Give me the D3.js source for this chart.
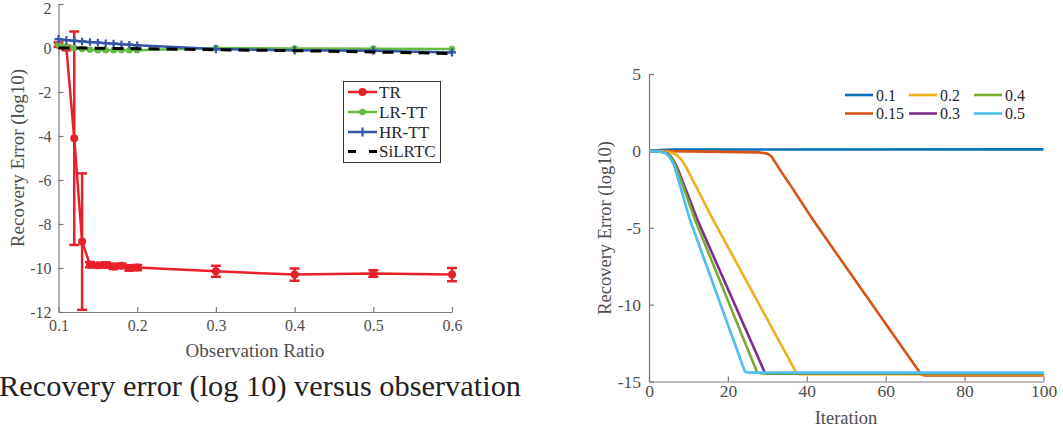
<!DOCTYPE html>
<html>
<head>
<meta charset="utf-8">
<script src="https://cdnjs.cloudflare.com/ajax/libs/d3/7.8.5/d3.min.js"></script>
<style>
body{margin:0;background:#fff;}
svg{display:block;}
svg text{font-family:"Liberation Serif","DejaVu Serif",serif;}
</style>
</head>
<body>
<svg id="myGraph" width="1063" height="433"></svg>
<script>
// ---- left panel: error vs observation ratio ----
var ratios = [0.1,0.11,0.12,0.13,0.14,0.15,0.16,0.17,0.18,0.19,0.2,0.3,0.4,0.5,0.6];
var trMean = [0.15,0.0,-4.1,-8.8,-9.85,-9.88,-9.86,-9.93,-9.9,-10.0,-9.98,-10.15,-10.3,-10.25,-10.3];
var trErr = [0.1,0.1,4.85,3.1,0.12,0.1,0.12,0.12,0.1,0.12,0.12,0.25,0.28,0.15,0.3];
var lrttMean = [0.15,0.05,0.0,-0.05,-0.08,-0.1,-0.1,-0.1,-0.1,-0.1,-0.1,0.0,-0.02,-0.03,-0.05];
var hrttMean = [0.4,0.36,0.33,0.3,0.27,0.25,0.22,0.2,0.17,0.15,0.12,-0.05,-0.1,-0.12,-0.2];
var hrttErr = [0.1,0.1,0.1,0.08,0.08,0.08,0.08,0.08,0.08,0.08,0.08,0.1,0.1,0.1,0.1];
var silrtcMean = [0.0,0.0,0.0,0.0,0.0,-0.01,-0.01,-0.02,-0.02,-0.02,-0.03,-0.08,-0.12,-0.18,-0.25];
var leftNames = ["TR","LR-TT","HR-TT","SiLRTC"];
var leftXTicks = [0.1,0.2,0.3,0.4,0.5,0.6];
var leftYTicks = [2,0,-2,-4,-6,-8,-10,-12];

// ---- right panel: error vs iteration ----
var rateNames = ["0.1","0.15","0.2","0.3","0.4","0.5"];
var iter01 = [0,3,6,100];
var err01 = [0,0.05,0.08,0.1];
var iter015 = [0,15,28,30,31,32,33.5,35.5,41.6,69,69.8,100];
var err015 = [0,-0.05,-0.1,-0.18,-0.35,-0.75,-1.35,-2.1,-4.5,-14.55,-14.6,-14.6];
var iter02 = [0,4,6,7.2,8.3,9.5,16.3,37.4,38.2,100];
var err02 = [0,-0.05,-0.13,-0.3,-0.6,-1.1,-4.5,-14.45,-14.52,-14.52];
var iter03 = [0,3,4.5,5.5,6.5,7.5,12.3,29.4,30.2,100];
var err03 = [0,-0.05,-0.15,-0.35,-0.75,-1.3,-4.5,-14.45,-14.5,-14.5];
var iter04 = [0,3,4.3,5.3,6.3,7.3,11.7,27.4,28.2,100];
var err04 = [0,-0.05,-0.15,-0.35,-0.75,-1.35,-4.5,-14.4,-14.47,-14.47];
var iter05 = [0,3,4.2,5.2,6.2,7,10.4,24.3,25.1,100];
var err05 = [0,-0.05,-0.15,-0.4,-0.85,-1.5,-4.5,-14.35,-14.42,-14.42];
var rightXTicks = [0,20,40,60,80,100];
var rightYTicks = [5,0,-5,-10,-15];

window.addEventListener("load",function(){

	var svg = d3.select("#myGraph");
	var axisCol = "#7a7a7a";
	var textCol = "#4d4d4d";
	var serif = "'Liberation Serif','DejaVu Serif',serif";

	function styleAxis(g,size){
		g.attr("font-family",serif);
		g.select(".domain").attr("stroke",axisCol).attr("stroke-width",1.2);
		g.selectAll(".tick line").attr("stroke",axisCol).attr("stroke-width",1.2);
		g.selectAll(".tick text").attr("fill",textCol).style("font-size",size+"px")
			.style("font-family",serif);
	}

	// ================= left chart =================
	var xL = d3.scaleLinear().domain([0.1,0.6]).range([58.5,452]);
	var yL = d3.scaleLinear().domain([-12,2]).range([312,4]);

	var gxL = svg.append("g").attr("transform","translate(0,312)")
		.call(d3.axisBottom(xL).tickValues(leftXTicks).tickSize(-5).tickSizeOuter(0).tickPadding(8)
			.tickFormat(d3.format(".1f")));
	styleAxis(gxL,16);
	var gyL = svg.append("g").attr("transform","translate(58.5,0)")
		.call(d3.axisLeft(yL).tickValues(leftYTicks).tickSize(-5).tickSizeOuter(0).tickPadding(7)
			.tickFormat(function(d){return String(d);}));
	styleAxis(gyL,16);
	// keep the top label inside the picture
	gyL.selectAll(".tick text").filter(function(d){return d==2;}).attr("dy","0.62em");

	svg.append("text").attr("x",255).attr("y",357).attr("text-anchor","middle")
		.attr("fill",textCol).style("font-size","19px").text("Observation Ratio");
	svg.append("text").attr("transform","translate(24,158) rotate(-90)").attr("text-anchor","middle")
		.attr("fill",textCol).style("font-size","19px").text("Recovery Error (log10)");

	var red = "#e8202a", green = "#66bb44", blue = "#3556a8";

	function drawSeries(vals,errs,col,width){
		var pts = ratios.map(function(r,i){return [r,vals[i],errs ? errs[i] : 0];});
		var line = d3.line().x(function(d){return xL(d[0]);}).y(function(d){return yL(d[1]);});
		var g = svg.append("g");
		g.append("path").datum(pts).attr("d",line).attr("fill","none")
			.attr("stroke",col).attr("stroke-width",width);
		if(errs){
			var eb = g.selectAll("g.eb").data(pts).enter().append("g").attr("stroke",col).attr("stroke-width",width);
			eb.append("line")
				.attr("x1",function(d){return xL(d[0]);}).attr("x2",function(d){return xL(d[0]);})
				.attr("y1",function(d){return yL(d[1]+d[2]);}).attr("y2",function(d){return yL(d[1]-d[2]);});
			[1,-1].forEach(function(s){
				eb.append("line")
					.attr("x1",function(d){return xL(d[0])-5;}).attr("x2",function(d){return xL(d[0])+5;})
					.attr("y1",function(d){return yL(d[1]+s*d[2]);}).attr("y2",function(d){return yL(d[1]+s*d[2]);});
			});
		}
		return {g:g,pts:pts};
	}

	var tr = drawSeries(trMean,trErr,red,2.5);
	tr.g.selectAll("circle").data(tr.pts).enter().append("circle")
		.attr("cx",function(d){return xL(d[0]);}).attr("cy",function(d){return yL(d[1]);})
		.attr("r",4).attr("fill",red);

	var lr = drawSeries(lrttMean,null,green,2.5);
	lr.g.selectAll("circle").data(lr.pts).enter().append("circle")
		.attr("cx",function(d){return xL(d[0]);}).attr("cy",function(d){return yL(d[1]);})
		.attr("r",3.3).attr("fill",green);

	var hr = drawSeries(hrttMean,null,blue,2.5);
	hr.g.selectAll("path.plus").data(hr.pts).enter().append("path").attr("class","plus")
		.attr("d",function(d,i){
			var cx = xL(d[0]), cy = yL(d[1]), h = Math.abs(yL(d[1]+hrttErr[i])-cy)+2;
			return "M"+(cx-4)+","+cy+"H"+(cx+4)+"M"+cx+","+(cy-h)+"V"+(cy+h);
		})
		.attr("stroke",blue).attr("stroke-width",2.2).attr("fill","none");

	var si = drawSeries(silrtcMean,null,"#000",3);
	si.g.select("path").attr("stroke-dasharray","11,7");

	// legend (left)
	var legL = svg.append("g");
	legL.append("rect").attr("x",343.5).attr("y",81.5).attr("width",97).attr("height",81)
		.attr("fill","#fff").attr("stroke","#333").attr("stroke-width",1);
	var legCols = [red,green,blue,"#000"];
	var legY = [92,112,132,151.5];
	leftNames.forEach(function(n,i){
		var y = legY[i];
		var ln = legL.append("line").attr("x1",348).attr("x2",377).attr("y1",y).attr("y2",y)
			.attr("stroke",legCols[i]).attr("stroke-width",i==3 ? 3 : 2.5);
		if(i==3) ln.attr("stroke-dasharray","8,13");
		if(i<2) legL.append("circle").attr("cx",362.5).attr("cy",y).attr("r",i==0 ? 4 : 3.3).attr("fill",legCols[i]);
		if(i==2) legL.append("path").attr("d","M358.5,"+y+"H366.5M362.5,"+(y-4.5)+"V"+(y+4.5))
			.attr("stroke",blue).attr("stroke-width",2.2);
		legL.append("text").attr("x",379).attr("y",y+5.5).attr("fill","#262626")
			.style("font-size","17px").text(n);
	});

	// caption
	svg.append("text").attr("x",-1).attr("y",396).attr("fill","#222")
		.attr("textLength",522).attr("lengthAdjust","spacingAndGlyphs")
		.style("font-size","29px").style("font-family",serif)
		.text("Recovery error (log 10) versus observation");

	// ================= right chart =================
	var xR = d3.scaleLinear().domain([0,100]).range([649,1043.5]);
	var yR = d3.scaleLinear().domain([-15,5]).range([381.5,74]);

	var gxR = svg.append("g").attr("transform","translate(0,381.5)")
		.call(d3.axisBottom(xR).tickValues(rightXTicks).tickSize(-5).tickSizeOuter(0).tickPadding(3));
	styleAxis(gxR,17.5);
	var gyR = svg.append("g").attr("transform","translate(649,0)")
		.call(d3.axisLeft(yR).tickValues(rightYTicks).tickSize(-5).tickSizeOuter(0).tickPadding(8)
			.tickFormat(function(d){return String(d);}));
	styleAxis(gyR,17.5);

	svg.append("text").attr("x",846).attr("y",424).attr("text-anchor","middle")
		.attr("fill",textCol).style("font-size","18.5px").text("Iteration");
	svg.append("text").attr("transform","translate(611,228) rotate(-90)").attr("text-anchor","middle")
		.attr("fill",textCol).style("font-size","18.5px").text("Recovery Error (log10)");

	var rateCols = ["#0072BD","#D95319","#EDB120","#7E2F8E","#77AC30","#4DBEEE"];
	var rateIters = [iter01,iter015,iter02,iter03,iter04,iter05];
	var rateErrs = [err01,err015,err02,err03,err04,err05];

	var lineR = d3.line()
		.x(function(d){return xR(d[0]);}).y(function(d){return yR(d[1]);});

	rateNames.forEach(function(n,k){
		var pts = rateIters[k].map(function(t,i){return [t,rateErrs[k][i]];});
		svg.append("path").datum(pts).attr("d",lineR).attr("fill","none")
			.attr("stroke",rateCols[k]).attr("stroke-width",2.6).attr("stroke-linejoin","round");
	});

	// legend (right), column-major 3 x 2
	var legR = svg.append("g");
	var colX = [845,909,974];
	var rowY = [95,113.5];
	rateNames.forEach(function(n,k){
		var cx = colX[Math.floor(k/2)], cy = rowY[k%2];
		legR.append("line").attr("x1",cx).attr("x2",cx+28).attr("y1",cy).attr("y2",cy)
			.attr("stroke",rateCols[k]).attr("stroke-width",2.6);
		legR.append("text").attr("x",cx+31).attr("y",cy+5.5).attr("fill","#262626")
			.style("font-size","16px").text(n);
	});
});
</script>
</body>
</html>
